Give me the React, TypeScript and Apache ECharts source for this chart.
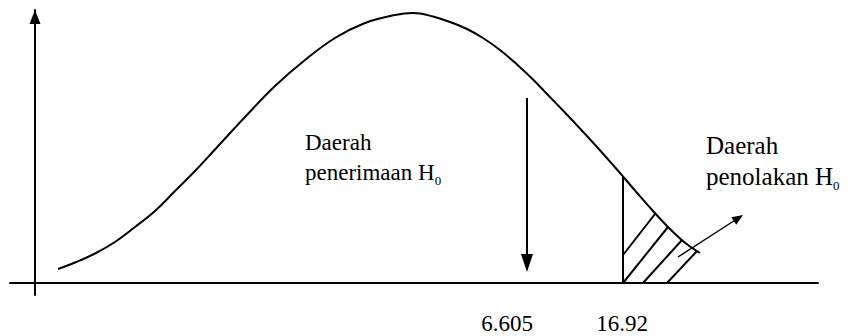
import React, { useEffect, useRef } from "react";
import * as echarts from "echarts";

// Density curve: horizontal distance from the vertical axis, height above the baseline
const curveX = [23, 40, 60, 80, 100, 120, 140, 160, 180, 210, 240, 270, 300, 330, 360, 378, 398, 415, 432, 448, 465, 482, 498, 512, 528, 545, 562, 578, 588, 603, 618, 632, 645, 655, 665];
const curveY = [14, 20.5, 29.5, 41, 56, 72, 92, 112, 133.5, 166, 197, 223, 245, 260, 268, 270, 266.5, 261, 254, 245, 233, 218.5, 203.5, 189, 172.5, 154.5, 136, 118, 106.5, 89, 72, 57, 44.5, 36.5, 30];

// Test statistic and critical value, placed on the horizontal axis
const markerLabels = ["6.605", "16.92"];
const markerX = [492, 588];

// Hatching of the rejection region (start and end of each stroke)
const hatchFrom = [[588, 28], [588, 0], [608, 0], [632, 0]];
const hatchTo = [[620, 69], [633, 56], [647, 43], [662, 32]];

// Region captions
const acceptLines = ["Daerah", "penerimaan H"];
const rejectLines = ["Daerah", "penolakan H"];
const hypothesisIndex = "0";

const FONT = "Liberation Serif";
const INK = "#000";

function caption(lines: string[], x: number, y: number, size: number, lineHeight: number) {
  return {
    type: "text",
    x,
    y,
    silent: true,
    style: {
      text: `{m|${lines[0]}}\n{m|${lines[1]}}{s|${hypothesisIndex}}`,
      fill: INK,
      fontFamily: FONT,
      fontSize: size,
      rich: {
        m: { fontFamily: FONT, fontSize: size, lineHeight, fill: INK },
        s: { fontFamily: FONT, fontSize: 13, lineHeight: 18, verticalAlign: "bottom", fill: INK },
      },
    },
  };
}

export default function App() {
  const ref = useRef<HTMLDivElement>(null);

  useEffect(() => {
    if (!ref.current) return;
    const chart = echarts.init(ref.current, undefined, { renderer: "svg" });

    const critIdx = curveX.indexOf(markerX[1]);
    const critHeight = curveY[critIdx];

    const strokes: any[] = hatchFrom.map((p, i) => [
      { coord: p, symbol: "none" },
      { coord: hatchTo[i], symbol: "none" },
    ]);
    // boundary of the rejection region
    strokes.push([
      { coord: [markerX[1], 0], symbol: "none" },
      { coord: [markerX[1], critHeight], symbol: "none" },
    ]);
    // arrow pointing at the test statistic
    strokes.push([
      { coord: [markerX[0], 185], symbol: "none" },
      { coord: [markerX[0], 20], symbol: "triangle", symbolSize: [12, 18] },
    ]);

    chart.setOption({
      animation: false,
      grid: { left: 10, right: 34, top: 10, bottom: 41, containLabel: false, outerBoundsMode: "none" },
      xAxis: {
        type: "value",
        min: -25,
        max: 783,
        axisLine: { show: true, onZero: true, lineStyle: { color: INK, width: 2 } },
        axisTick: { show: false },
        splitLine: { show: false },
        axisLabel: {
          customValues: markerX,
          margin: 17,
          color: INK,
          fontFamily: FONT,
          fontSize: 23,
          formatter: (v: number) => {
            const i = markerX.indexOf(v);
            if (i < 0) return "";
            return i === 0 ? `{l|${markerLabels[i]}}` : `{c|${markerLabels[i]}}`;
          },
          rich: {
            l: { fontFamily: FONT, fontSize: 23, lineHeight: 22, color: INK, padding: [0, 40, 0, 0] },
            c: { fontFamily: FONT, fontSize: 23, lineHeight: 22, color: INK, padding: [0, 2, 0, 0] },
          },
        },
      },
      yAxis: {
        type: "value",
        min: -12,
        max: 273,
        axisLine: {
          show: true,
          onZero: true,
          symbol: ["none", "triangle"],
          symbolSize: [11, 14],
          symbolOffset: [0, -7],
          lineStyle: { color: INK, width: 2 },
        },
        axisTick: { show: false },
        axisLabel: { show: false },
        splitLine: { show: false },
      },
      series: [
        {
          type: "line",
          data: curveX.map((x, i) => [x, curveY[i]]),
          showSymbol: false,
          smooth: 0.4,
          silent: true,
          lineStyle: { color: INK, width: 2 },
        },
        {
          type: "line",
          data: [],
          silent: true,
          markLine: {
            silent: true,
            animation: false,
            label: { show: false },
            emphasis: { disabled: true },
            lineStyle: { color: INK, width: 2, type: "solid" },
            itemStyle: { color: INK },
            data: strokes,
          },
        },
        {
          type: "line",
          data: [],
          silent: true,
          markLine: {
            silent: true,
            animation: false,
            label: { show: false },
            emphasis: { disabled: true },
            lineStyle: { color: INK, width: 1.4, type: "solid" },
            itemStyle: { color: INK },
            data: [
              [
                { coord: [643, 26], symbol: "none" },
                { coord: [703.4, 65], symbol: "triangle", symbolSize: [9, 11] },
              ],
            ],
          },
        },
      ],
      graphic: [caption(acceptLines, 305, 127, 23, 30), caption(rejectLines, 706, 130, 25, 31)],
    });

    return () => chart.dispose();
  }, []);

  return (
    <div
      ref={ref}
      style={{ position: "absolute", left: 0, top: 0, width: 852, height: 336, background: "#fff" }}
    />
  );
}
